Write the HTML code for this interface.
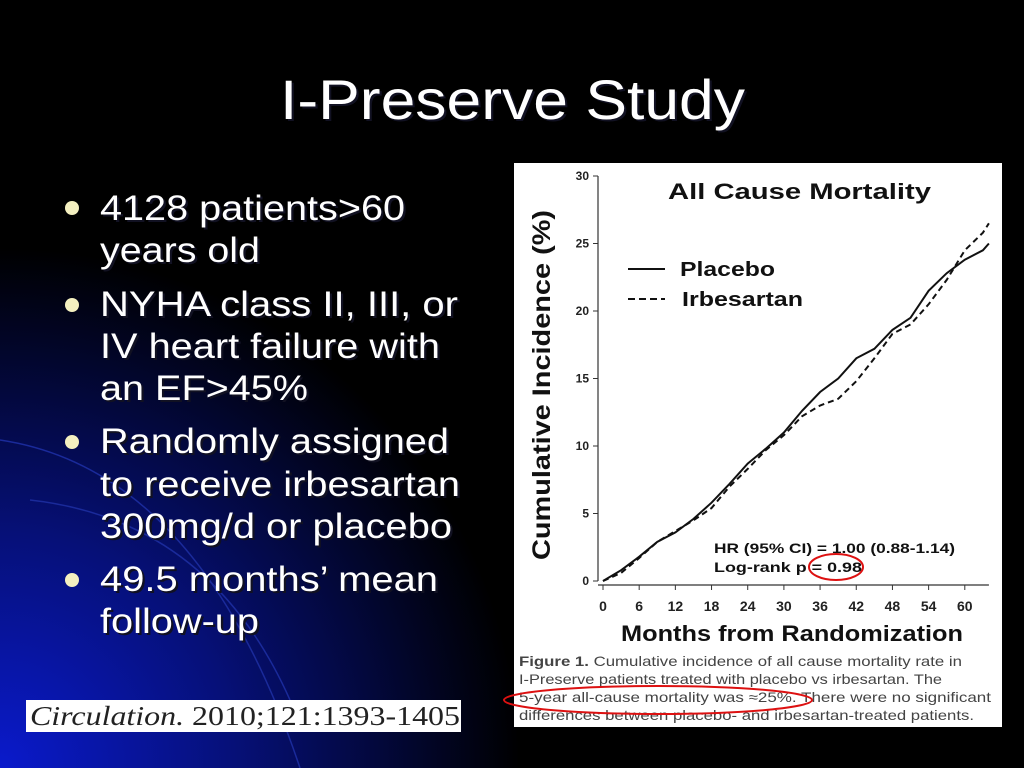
<!DOCTYPE html>
<html><head><meta charset="utf-8"><style>
html,body{margin:0;padding:0;background:#000;}
svg{display:block;font-family:"Liberation Sans",Arial,sans-serif;}
</style></head><body>
<svg id="s" width="1024" height="768" viewBox="0 0 1024 768">
<defs>
<radialGradient id="bg" cx="0" cy="768" r="520" gradientUnits="userSpaceOnUse">
<stop offset="0" stop-color="#0a1acc"/><stop offset="0.45" stop-color="#061078"/><stop offset="1" stop-color="#000"/>
</radialGradient>
</defs>
<rect width="1024" height="768" fill="#000"/>
<rect width="1024" height="768" fill="url(#bg)"/>
<path d="M0 440 Q200 470 300 768" stroke="#1a2a9a" fill="none" stroke-width="1.5"/>
<path d="M30 500 Q210 520 290 700" stroke="#1a2a9a" fill="none" stroke-width="1.5"/>
<text x="280" y="119" fill="#fff" font-size="56" textLength="465" lengthAdjust="spacingAndGlyphs" style="text-shadow:2px 2px 0 #112">I-Preserve Study</text>
<g fill="#fff" font-size="35" style="text-shadow:2px 2px 0 #112">
<circle cx="72" cy="208" r="7" fill="#f4f0c0"/><circle cx="72" cy="305" r="7" fill="#f4f0c0"/><circle cx="72" cy="442" r="7" fill="#f4f0c0"/><circle cx="72" cy="580" r="7" fill="#f4f0c0"/>
<text x="100" y="220" textLength="305" lengthAdjust="spacingAndGlyphs">4128 patients&gt;60</text>
<text x="100" y="262" textLength="160" lengthAdjust="spacingAndGlyphs">years old</text>
<text x="100" y="316" textLength="358" lengthAdjust="spacingAndGlyphs">NYHA class II, III, or</text>
<text x="100" y="358" textLength="340" lengthAdjust="spacingAndGlyphs">IV heart failure with</text>
<text x="100" y="400" textLength="208" lengthAdjust="spacingAndGlyphs">an EF&gt;45%</text>
<text x="100" y="453" textLength="349" lengthAdjust="spacingAndGlyphs">Randomly assigned</text>
<text x="100" y="496" textLength="360" lengthAdjust="spacingAndGlyphs">to receive irbesartan</text>
<text x="100" y="538" textLength="352" lengthAdjust="spacingAndGlyphs">300mg/d or placebo</text>
<text x="100" y="591" textLength="338" lengthAdjust="spacingAndGlyphs">49.5 months’ mean</text>
<text x="100" y="633" textLength="159" lengthAdjust="spacingAndGlyphs">follow-up</text>
</g>
<rect x="26" y="700" width="435" height="32" fill="#fff"/>
<text x="30" y="725" font-family="Liberation Serif,serif" font-size="27" fill="#222" textLength="430" lengthAdjust="spacingAndGlyphs"><tspan font-style="italic">Circulation.</tspan> 2010;121:1393-1405</text>
<rect x="514" y="163" width="488" height="564" fill="#fff"/>
<g id="chart"></g>
<text x="668" y="199" font-size="22" font-weight="bold" fill="#111" textLength="263" lengthAdjust="spacingAndGlyphs">All Cause Mortality</text>
<text transform="translate(550,385) rotate(-90)" text-anchor="middle" font-size="25" font-weight="bold" fill="#111" textLength="350" lengthAdjust="spacingAndGlyphs">Cumulative Incidence (%)</text>
<text x="621" y="641" font-size="22" font-weight="bold" fill="#111" textLength="342" lengthAdjust="spacingAndGlyphs">Months from Randomization</text>
<g>
<line x1="628" y1="269" x2="665" y2="269" stroke="#111" stroke-width="2"/>
<text x="680" y="276" font-size="20" font-weight="bold" fill="#111" textLength="95" lengthAdjust="spacingAndGlyphs">Placebo</text>
<line x1="628" y1="299" x2="665" y2="299" stroke="#111" stroke-width="2" stroke-dasharray="7,4"/>
<text x="682" y="306" font-size="20" font-weight="bold" fill="#111" textLength="121" lengthAdjust="spacingAndGlyphs">Irbesartan</text>
</g>
<text x="714" y="553" font-size="14" font-weight="bold" fill="#111" textLength="241" lengthAdjust="spacingAndGlyphs">HR (95% CI) = 1.00 (0.88-1.14)</text>
<text x="714" y="572" font-size="14" font-weight="bold" fill="#111" textLength="148" lengthAdjust="spacingAndGlyphs">Log-rank p = 0.98</text>
<ellipse cx="836" cy="567" rx="27" ry="13" fill="none" stroke="#d11" stroke-width="2"/>
<g font-size="14" fill="#444">
<text x="519" y="666" textLength="443" lengthAdjust="spacingAndGlyphs"><tspan font-weight="bold">Figure 1.</tspan> Cumulative incidence of all cause mortality rate in</text>
<text x="519" y="684" textLength="423" lengthAdjust="spacingAndGlyphs">I-Preserve patients treated with placebo vs irbesartan. The</text>
<text x="519" y="702" textLength="472" lengthAdjust="spacingAndGlyphs">5-year all-cause mortality was ≈25%. There were no significant</text>
<text x="519" y="720" textLength="455" lengthAdjust="spacingAndGlyphs">differences between placebo- and irbesartan-treated patients.</text>
</g>
<ellipse cx="658" cy="700" rx="154" ry="14" fill="none" stroke="#d11" stroke-width="2"/>
</svg>
<script>
const months=[0,3,6,9,12,15,18,21,24,27,30,33,36,39,42,45,48,51,54,57,60,63,64];
const placebo=[0,0.8,1.8,2.9,3.6,4.6,5.8,7.2,8.7,9.8,11,12.6,14,15,16.5,17.2,18.6,19.5,21.5,22.8,23.8,24.5,25];
const irbesartan=[0,0.6,1.7,2.9,3.7,4.5,5.4,7,8.3,9.7,10.8,12.2,13,13.5,14.8,16.5,18.3,19,20.5,22.3,24.5,25.8,26.5];
const yTicks=[0,5,10,15,20,25,30];
const xTicks=[0,6,12,18,24,30,36,42,48,54,60];
const NS='http://www.w3.org/2000/svg';
const X=m=>603+m*6.03, Y=v=>581-v*13.5;
const g=document.getElementById('chart');
function mk(t,a){const e=document.createElementNS(NS,t);for(const k in a)e.setAttribute(k,a[k]);g.appendChild(e);return e;}
let e=mk('line',{x1:598,y1:Y(0),x2:598,y2:Y(30),stroke:'#333','stroke-width':1.2});


e=mk('line',{x1:598,y1:585,x2:X(64),y2:585,stroke:'#333','stroke-width':1.2});


yTicks.forEach(v=>{
 mk('line',{x1:593,y1:Y(v),x2:598,y2:Y(v),stroke:'#333'});
 const t=mk('text',{x:589,y:Y(v)+4,'text-anchor':'end','font-size':12,'font-weight':'bold',fill:'#222'});t.textContent=v;
 
 
});
xTicks.forEach(m=>{
 mk('line',{x1:X(m),y1:585,x2:X(m),y2:590,stroke:'#333'});
 const t=mk('text',{x:X(m),y:611,'text-anchor':'middle','font-size':14,'font-weight':'bold',fill:'#222'});t.textContent=m;
 
 
});
function path(vals){return vals.map((v,i)=>(i?'L':'M')+X(months[i]).toFixed(1)+' '+Y(v).toFixed(1)).join(' ');}
e=mk('path',{d:path(placebo),fill:'none',stroke:'#111','stroke-width':2});


e=mk('path',{d:path(irbesartan),fill:'none',stroke:'#111','stroke-width':2,'stroke-dasharray':'6,4'});


</script>
</body></html>
